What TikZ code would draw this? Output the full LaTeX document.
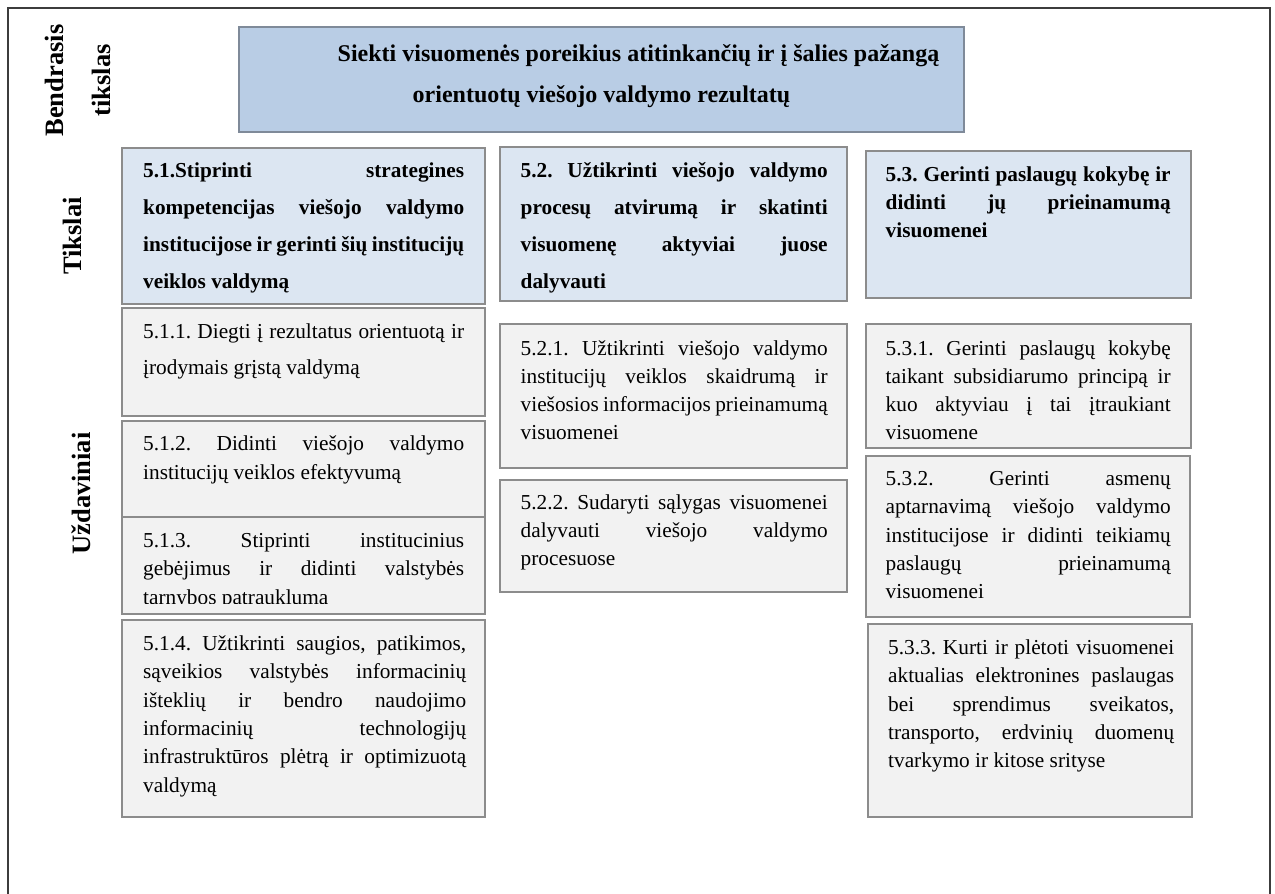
\documentclass[tikz,border=0pt]{standalone}
\usepackage{fontspec}
\setmainfont{Liberation Serif}
\usetikzlibrary{fit}

\definecolor{goalfill}{HTML}{B9CDE5}
\definecolor{aimfill}{HTML}{DCE6F2}
\definecolor{taskfill}{HTML}{F2F2F2}
\definecolor{boxline}{HTML}{8C8C8C}
\definecolor{goalline}{HTML}{7F8A99}
\definecolor{framecol}{HTML}{3C3C3C}

% normal (stretchable) interword spaces of the font
\newcommand{\fontspaces}{\spaceskip=0pt\xspaceskip=0pt\frenchspacing}
% one justified line, spread to the width \jw
\newlength{\jw}
\newcommand{\jl}[1]{{\fontspaces\makebox[\jw][s]{#1}}}

\begin{document}
\begin{tikzpicture}[x=1pt,y=-1pt,
  panel/.style={draw=boxline, line width=1.5pt, inner sep=0pt},
  goalbox/.style={panel, draw=goalline, fill=goalfill},
  aimbox/.style={panel, fill=aimfill},
  taskbox/.style={panel, fill=taskfill},
  jtxt/.style={text width=#1, execute at begin node={\fontspaces\setlength{\jw}{#1}}},
  boldtxt/.style={inner sep=0pt, anchor=base west, align=flush left,
    font=\bfseries\fontsize{21.3}{#1}\selectfont},
  regtxt/.style={inner sep=0pt, anchor=base west, align=flush left,
    font=\fontsize{21.3}{#1}\selectfont},
  sidelabel/.style={rotate=90, anchor=base, inner sep=0pt, align=center,
    font=\bfseries\fontsize{26.5}{46.7}\selectfont},
]
\useasboundingbox (0,0) rectangle (1275,894);

% outer frame, open at the bottom
\draw[framecol, line width=1.5pt] (8,894) -- (8,8) -- (1270,8) -- (1270,894);

% row labels (the base anchor of a two-line label is its last line)
\node[sidelabel] (lblgoal) at (110,80.5) {Bendrasis\\tikslas};
\node[sidelabel] (lblaims) at (81.7,236) {Tikslai};
\node[sidelabel] (lbltasks) at (90.7,493.5) {Uždaviniai};

% general goal
\node[goalbox, fit={(239,27) (964,132)}] (goal) {};
\node[inner sep=0pt, anchor=base, align=flush center, text width=725pt,
  execute at begin node={\fontspaces},
  font=\bfseries\fontsize{24}{41}\selectfont] (goaltxt) at (601.5,61)
  {\hspace*{74pt}Siekti visuomenės poreikius atitinkančių ir į šalies pažangą\\
   orientuotų viešojo valdymo rezultatų};

% aims
\node[aimbox, fit={(122,148) (485,304)}] (a51) {};
\node[aimbox, fit={(500,147) (847,301)}] (a52) {};
\node[aimbox, fit={(866,151) (1191,298)}] (a53) {};

\node[boldtxt=37, jtxt=321pt] (a51txt) at (143,177)
  {\jl{5.1.Stiprinti strategines}\\
   \jl{kompetencijas viešojo valdymo}\\
   \jl{institucijose ir gerinti šių institucijų}\\
   veiklos valdymą};
\node[boldtxt=37, jtxt=307pt] (a52txt) at (520.5,177.5)
  {\jl{5.2. Užtikrinti viešojo valdymo}\\
   \jl{procesų atvirumą ir skatinti}\\
   \jl{visuomenę aktyviai juose}\\
   dalyvauti};
\node[boldtxt=28.3, jtxt=285pt] (a53txt) at (885.5,181)
  {\jl{5.3. Gerinti paslaugų kokybę ir}\\
   \jl{didinti jų prieinamumą}\\
   visuomenei};

% tasks, column 5.1
\node[taskbox, fit={(122,308) (485,416)}] (t511) {};
\node[taskbox, fit={(122,421) (485,517)}] (t512) {};
\node[taskbox, fit={(122,517) (485,614)}] (t513) {};
\node[taskbox, fit={(122,620) (485,817)}] (t514) {};

\node[regtxt=36.7, jtxt=321pt] (t511txt) at (143,338)
  {\jl{5.1.1. Diegti į rezultatus orientuotą ir}\\
   įrodymais grįstą valdymą};
\node[regtxt=29, jtxt=321pt] (t512txt) at (143,450)
  {\jl{5.1.2. Didinti viešojo valdymo}\\
   institucijų veiklos efektyvumą};
\begin{scope}
  \clip (122,517) rectangle (485,603.5);
  \node[regtxt=28.5, jtxt=321pt] (t513txt) at (143,547)
    {\jl{5.1.3. Stiprinti institucinius}\\
     \jl{gebėjimus ir didinti valstybės}\\
     tarnybos patrauklumą};
\end{scope}
\node[regtxt=28.3, jtxt=323pt] (t514txt) at (143,650.5)
  {\jl{5.1.4. Užtikrinti saugios, patikimos,}\\
   \jl{sąveikios valstybės informacinių}\\
   \jl{išteklių ir bendro naudojimo}\\
   \jl{informacinių technologijų}\\
   \jl{infrastruktūros plėtrą ir optimizuotą}\\
   valdymą};

% tasks, column 5.2
\node[taskbox, fit={(500,324) (847,468)}] (t521) {};
\node[taskbox, fit={(500,480) (847,592)}] (t522) {};

\node[regtxt=28, jtxt=307pt] (t521txt) at (520.5,355.3)
  {\jl{5.2.1. Užtikrinti viešojo valdymo}\\
   \jl{institucijų veiklos skaidrumą ir}\\
   \jl{viešosios informacijos prieinamumą}\\
   visuomenei};
\node[regtxt=28.2, jtxt=307pt] (t522txt) at (520.5,509.3)
  {\jl{5.2.2. Sudaryti sąlygas visuomenei}\\
   \jl{dalyvauti viešojo valdymo}\\
   procesuose};

% tasks, column 5.3
\node[taskbox, fit={(866,324) (1191,448)}] (t531) {};
\node[taskbox, fit={(866,456) (1190,617)}] (t532) {};
\node[taskbox, fit={(868,624) (1192,817)}] (t533) {};

\node[regtxt=28, jtxt=285pt] (t531txt) at (885.5,355.3)
  {\jl{5.3.1. Gerinti paslaugų kokybę}\\
   \jl{taikant subsidiarumo principą ir}\\
   \jl{kuo aktyviau į tai įtraukiant}\\
   visuomene};
\node[regtxt=28.2, jtxt=285pt] (t532txt) at (885.5,485.7)
  {\jl{5.3.2. Gerinti asmenų}\\
   \jl{aptarnavimą viešojo valdymo}\\
   \jl{institucijose ir didinti teikiamų}\\
   \jl{paslaugų prieinamumą}\\
   visuomenei};
\node[regtxt=28.4, jtxt=286pt] (t533txt) at (888,654.3)
  {\jl{5.3.3. Kurti ir plėtoti visuomenei}\\
   \jl{aktualias elektronines paslaugas}\\
   \jl{bei sprendimus sveikatos,}\\
   \jl{transporto, erdvinių duomenų}\\
   tvarkymo ir kitose srityse};
\end{tikzpicture}
\end{document}
